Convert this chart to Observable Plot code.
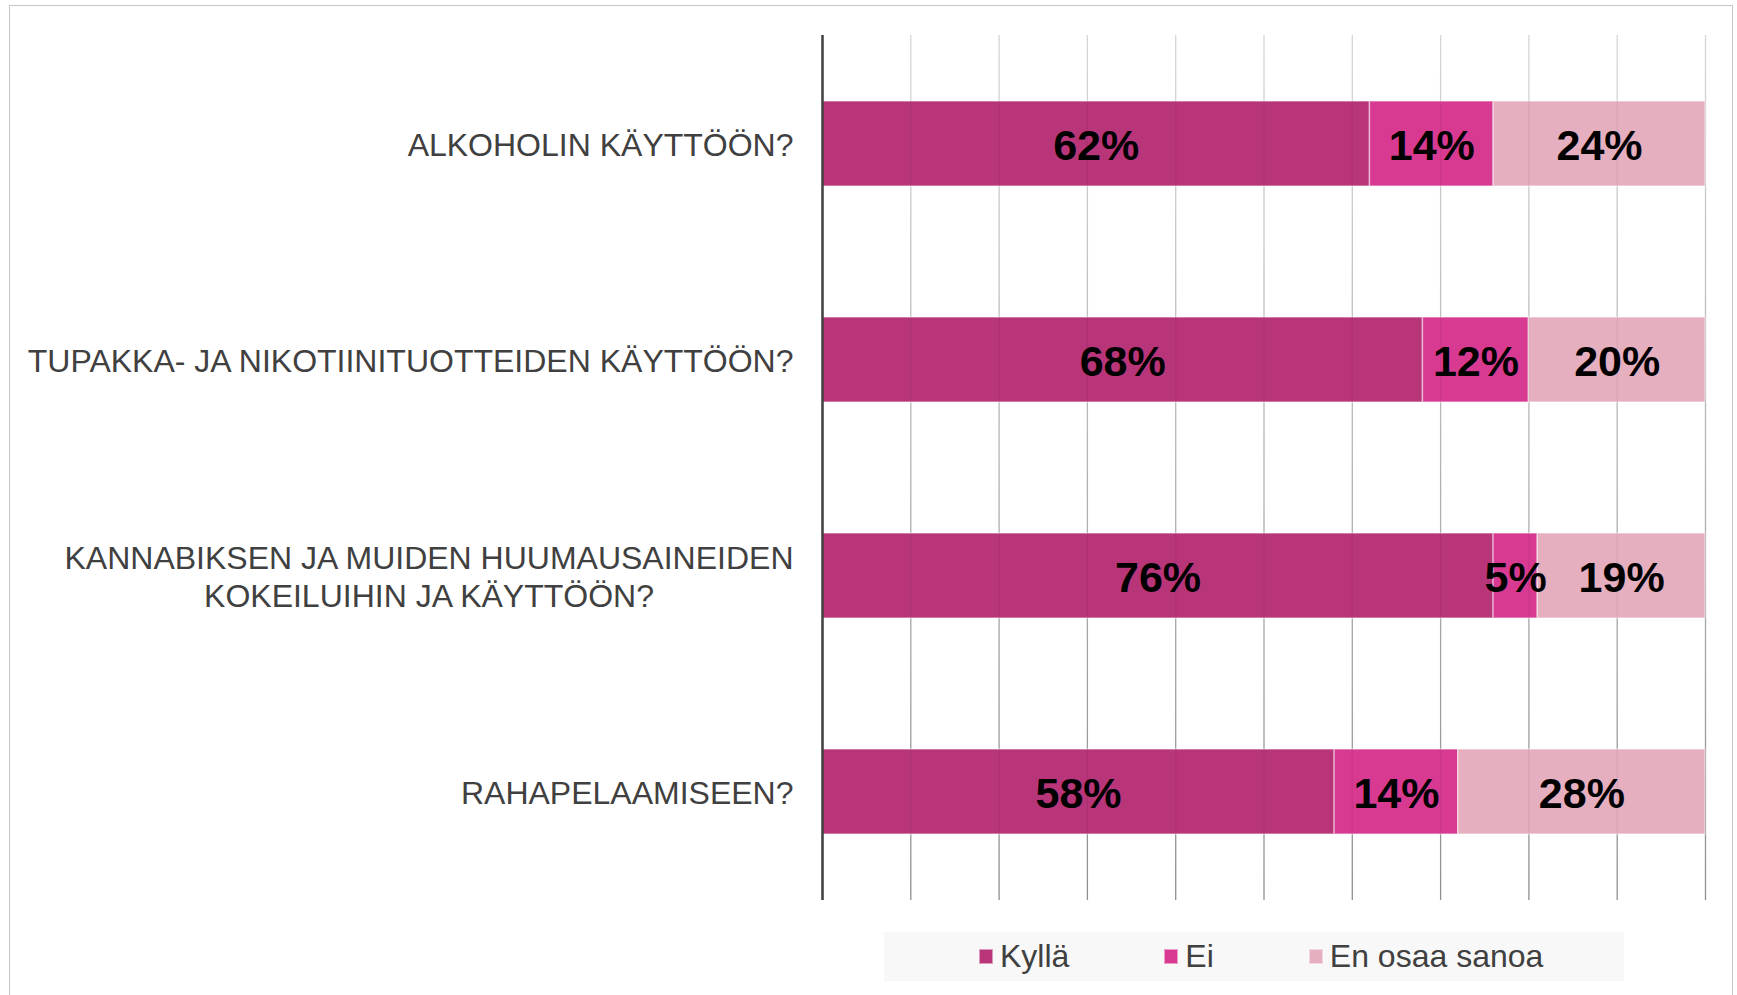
<!DOCTYPE html>
<html>
<head>
<meta charset="utf-8">
<script src="https://cdn.jsdelivr.net/npm/d3@7"></script>
<script src="https://cdn.jsdelivr.net/npm/@observablehq/plot@0.6"></script>
<style>
  html, body { margin: 0; padding: 0; background: #fff; }
  body { width: 1737px; height: 995px; overflow: hidden; position: relative; font-family: "Liberation Sans", Arial, sans-serif; }
  #frame { position: absolute; left: 9px; top: 5px; width: 1724px; height: 1100px; border: 1.5px solid #c6c6c6; box-sizing: border-box; pointer-events: none; }
  #chart { position: absolute; left: 0; top: 0; }
  #legend { position: absolute; left: 884px; top: 932px; width: 740px; height: 49px; background: #f8f8f8;
            display: flex; align-items: center; justify-content: flex-start; gap: 95px; padding-left: 95px; box-sizing: border-box; }
  .item { display: flex; align-items: center; gap: 7px; font-size: 32px; color: #404040; }
  .sw { width: 14px; height: 15px; box-sizing: border-box; border: 1px solid rgba(255,255,255,0.5); }
</style>
</head>
<body>
<div id="frame"></div>
<div id="chart"></div>
<div id="legend"></div>
<script>
const categories = [
  "ALKOHOLIN KÄYTTÖÖN?",
  "TUPAKKA- JA NIKOTIINITUOTTEIDEN KÄYTTÖÖN?",
  "KANNABIKSEN JA MUIDEN HUUMAUSAINEIDEN\nKOKEILUIHIN JA KÄYTTÖÖN?",
  "RAHAPELAAMISEEN?"
];
const series = ["Kyllä", "Ei", "En osaa sanoa"];
const kylla = [62, 68, 76, 58];
const ei = [14, 12, 5, 14];
const enOsaa = [24, 20, 19, 28];
const gridTicks = [0, 10, 20, 30, 40, 50, 60, 70, 80, 90, 100];
const colors = ["#B8357A", "#D83A92", "#E5AFC0"];

const seriesValues = [kylla, ei, enOsaa];
const data = categories.flatMap((q, i) =>
  series.map((s, j) => ({ q, s, v: seriesValues[j][i] }))
);

const plot = Plot.plot({
  width: 1737,
  height: 920,
  marginLeft: 822,
  marginRight: 32,
  marginTop: 35,
  marginBottom: 20,
  style: { fontFamily: "'Liberation Sans', Arial, sans-serif", background: "transparent" },
  x: { domain: [0, 100], axis: null },
  y: { domain: categories, paddingInner: 0.605, paddingOuter: 0.3025, label: null },
  color: { domain: series, range: colors },
  marks: [
    Plot.ruleX(gridTicks, { stroke: "url(#gridGrad)", strokeWidth: 1.3 }),
    Plot.barX(data, Plot.stackX({ x: "v", y: "q", fill: "s", z: "s", order: series,
      stroke: "#fff", strokeOpacity: 0.45, strokeWidth: 1.5 })),
    Plot.ruleX(gridTicks, { stroke: "#000", strokeOpacity: 0.06, strokeWidth: 1.3 }),
    Plot.textX(data, Plot.stackX({ x: "v", y: "q", z: "s", order: series,
      text: d => d.v + "%", fontSize: 43, fontWeight: "bold", fill: "#000", dy: 2 })),
    Plot.axisY({ tickSize: 0, tickPadding: 29, fontSize: 32, color: "#404040", lineHeight: 1.18, label: null }),
    Plot.ruleX([0], { stroke: "#404040", strokeWidth: 2.5 })
  ]
});

document.getElementById("chart").appendChild(plot);

// gradient for gridlines (lighter at top, darker at bottom)
const ns = "http://www.w3.org/2000/svg";
const defs = document.createElementNS(ns, "defs");
const grad = document.createElementNS(ns, "linearGradient");
grad.setAttribute("id", "gridGrad");
grad.setAttribute("gradientUnits", "userSpaceOnUse");
grad.setAttribute("x1", "0"); grad.setAttribute("y1", "35");
grad.setAttribute("x2", "0"); grad.setAttribute("y2", "900");
[["0", "#e4e4e4"], ["1", "#999999"]].forEach(([o, c]) => {
  const st = document.createElementNS(ns, "stop");
  st.setAttribute("offset", o); st.setAttribute("stop-color", c);
  grad.appendChild(st);
});
defs.appendChild(grad);
plot.insertBefore(defs, plot.firstChild);

// center multi-line labels as a block, right-aligned
plot.querySelectorAll('[aria-label="y-axis tick label"] text').forEach(t => {
  if (t.querySelectorAll("tspan").length > 1) {
    const w = t.getBBox().width;
    t.setAttribute("text-anchor", "middle");
    t.setAttribute("transform", (t.getAttribute("transform") || "") + ` translate(${-w / 2},0)`);
  }
});

// legend
const legend = document.getElementById("legend");
series.forEach((s, i) => {
  const item = document.createElement("div");
  item.className = "item";
  const sw = document.createElement("span");
  sw.className = "sw";
  sw.style.background = colors[i];
  const label = document.createElement("span");
  label.textContent = s;
  item.appendChild(sw);
  item.appendChild(label);
  legend.appendChild(item);
});
</script>
</body>
</html>
